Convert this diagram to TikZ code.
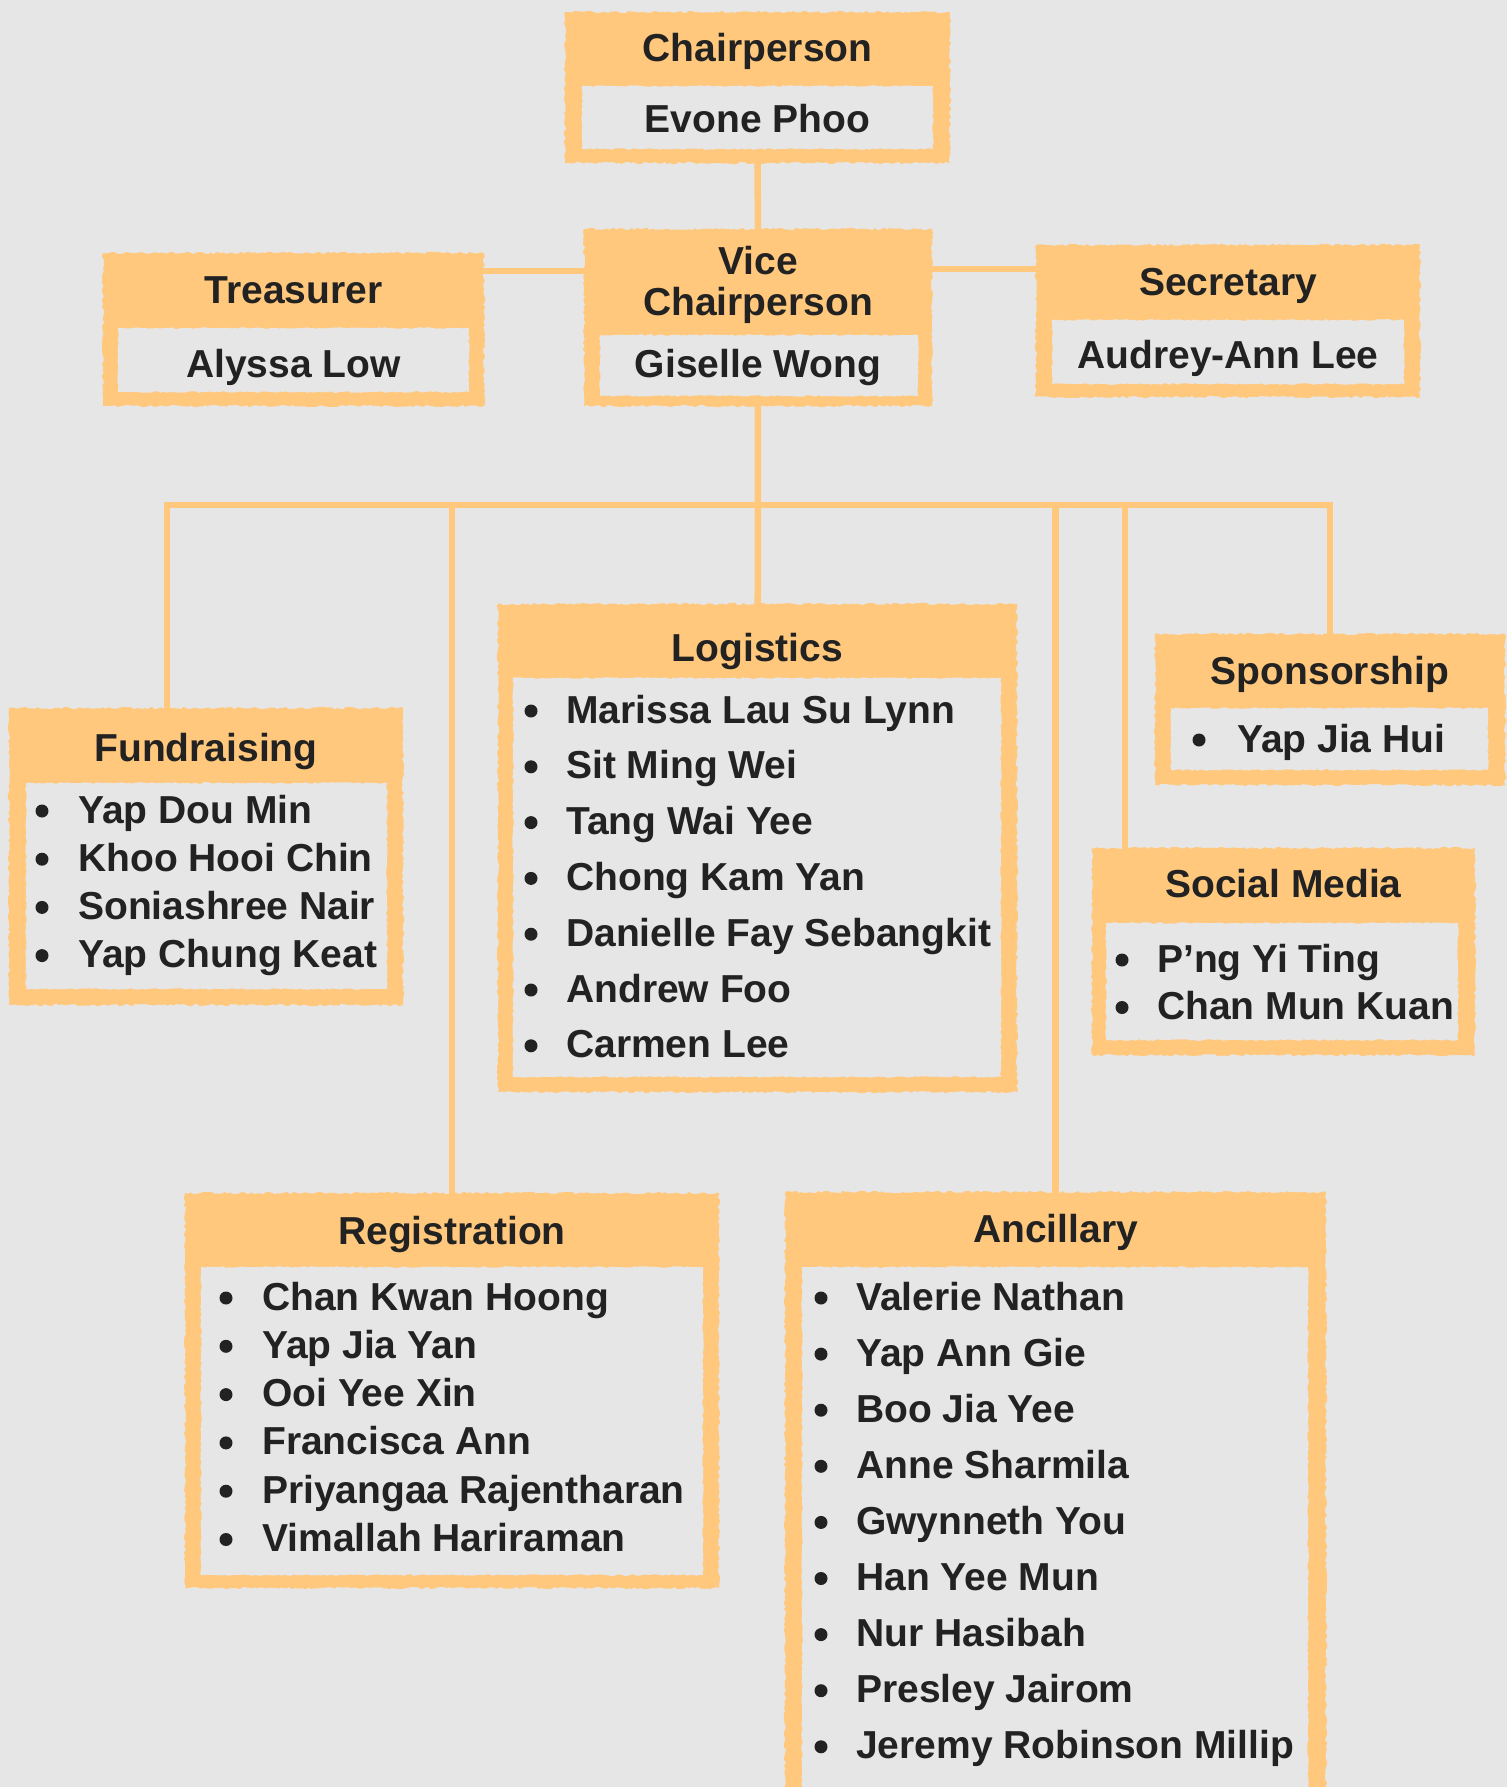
\documentclass[tikz,border=0pt]{standalone}
\usepackage{fontspec}
\setmainfont{Liberation Sans}
\usetikzlibrary{decorations.pathmorphing,backgrounds}

\definecolor{canvas}{HTML}{E6E6E6}
\definecolor{tape}{HTML}{FFC87D}
\definecolor{ink}{HTML}{222222}

\tikzset{
  torn/.style={decorate, decoration={random steps, segment length=3pt, amplitude=1.2pt}},
  outerbox/.style={torn, fill=tape, draw=none, inner sep=0pt, outer sep=0pt},
  innerbox/.style={decorate, decoration={random steps, segment length=3pt, amplitude=0.8pt},
                   fill=canvas, draw=none, inner sep=0pt, outer sep=0pt},
  caption/.style={text=ink, font=\bfseries\fontsize{39}{40}\selectfont, inner sep=0pt, anchor=base},
  dot/.style={circle, fill=ink, inner sep=0pt, minimum size=13pt},
  link/.style={draw=tape, line width=6.5pt, line join=miter},
}

% bulleted member list: prefix, bullet x, text x, first baseline, line step, names
\newcommand\roster[6]{%
  \foreach \who [count=\k from 0] in {#6} {
    \node[dot] (#1b\k) at (#2, {#4+\k*#5-12}) {};
    \node[caption, anchor=base west] (#1t\k) at (#3, {#4+\k*#5}) {\who};
  }}

\begin{document}
\begin{tikzpicture}[x=1pt, y=-1pt]
\pgfmathsetseed{7}
\useasboundingbox (0,0) rectangle (1507,1787);

% ---- executive boxes ----
\node[outerbox, minimum width=385, minimum height=151] (chair) at (757.5,87.5) {};
\node[innerbox, minimum width=351, minimum height=63] (chairin) at (757.5,117.5) {};
\node[caption] (chairtitle) at (757.5,62) {Chairperson};
\node[caption] (chairname) at (757.5,133) {Evone Phoo};

\node[outerbox, minimum width=348, minimum height=177] (vice) at (758,317.5) {};
\node[innerbox, minimum width=318, minimum height=61] (vicein) at (759,365.5) {};
\node[caption, align=center] (vicetitle) at (758,315) {Vice\\Chairperson};
\node[caption] (vicename) at (758,377) {Giselle Wong};

\node[outerbox, minimum width=381, minimum height=153] (treas) at (293.5,329.5) {};
\node[innerbox, minimum width=351, minimum height=64] (treasin) at (293.5,360) {};
\node[caption] (treastitle) at (293.5,303) {Treasurer};
\node[caption] (treasname) at (293.5,377) {Alyssa Low};

\node[outerbox, minimum width=384, minimum height=152] (sec) at (1228,321) {};
\node[innerbox, minimum width=352, minimum height=64] (secin) at (1228,352) {};
\node[caption] (sectitle) at (1228,295) {Secretary};
\node[caption] (secname) at (1228,368) {Audrey-Ann Lee};

% ---- committees ----
\node[outerbox, minimum width=394, minimum height=297] (fund) at (206,856.5) {};
\node[innerbox, minimum width=361, minimum height=206] (fundin) at (206.5,886) {};
\node[caption] (fundtitle) at (206,761) {Fundraising};
\roster{fund}{42}{78}{823}{48.2}{Yap Dou Min, Khoo Hooi Chin, Soniashree Nair, Yap Chung Keat}

\node[outerbox, minimum width=519, minimum height=488] (logi) at (757.5,848) {};
\node[innerbox, minimum width=488, minimum height=399] (logiin) at (757,877.5) {};
\node[caption] (logititle) at (757.5,661) {Logistics};
\roster{logi}{531}{566}{723}{55.8}{Marissa Lau Su Lynn, Sit Ming Wei, Tang Wai Yee, Chong Kam Yan, Danielle Fay Sebangkit, Andrew Foo, Carmen Lee}

\node[outerbox, minimum width=350, minimum height=151] (spons) at (1330,709.5) {};
\node[innerbox, minimum width=317, minimum height=62] (sponsin) at (1329.5,739) {};
\node[caption] (sponstitle) at (1330,684) {Sponsorship};
\roster{spons}{1199}{1237}{752}{48}{Yap Jia Hui}

\node[outerbox, minimum width=383, minimum height=207] (social) at (1283.5,951.5) {};
\node[innerbox, minimum width=352, minimum height=117] (socialin) at (1282,981.5) {};
\node[caption] (socialtitle) at (1283.5,897) {Social Media};
\roster{social}{1122}{1157}{972}{47.5}{P’ng Yi Ting, Chan Mun Kuan}

\node[outerbox, minimum width=534, minimum height=395] (reg) at (452,1390.5) {};
\node[innerbox, minimum width=502, minimum height=308] (regin) at (452,1421) {};
\node[caption] (regtitle) at (452,1244) {Registration};
\roster{reg}{226}{262}{1310}{48.3}{Chan Kwan Hoong, Yap Jia Yan, Ooi Yee Xin, Francisca Ann, Priyangaa Rajentharan, Vimallah Hariraman}

\node[outerbox, minimum width=541, minimum height=620] (anc) at (1055.5,1502) {};
\node[innerbox, minimum width=506, minimum height=545] (ancin) at (1055,1539.5) {};
\node[caption] (anctitle) at (1055.5,1242) {Ancillary};
\roster{anc}{821}{856}{1310}{56.1}{Valerie Nathan, Yap Ann Gie, Boo Jia Yee, Anne Sharmila, Gwynneth You, Han Yee Mun, Nur Hasibah, Presley Jairom, Jeremy Robinson Millip}

% ---- connectors, kept underneath the boxes ----
\coordinate (tv) at (0,271);
\coordinate (sv) at (0,269);
\coordinate (busL) at (167,505);
\coordinate (smx) at (1125,505);
\begin{pgfonlayer}{background}
  \fill[canvas] (0,0) rectangle (1507,1787);
  \draw[link] (chair.center) -- (vice.center);
  \draw[link] (treas.center |- tv) -- (vice.center |- tv);
  \draw[link] (vice.center |- sv) -- (sec.center |- sv);
  \draw[link] (vice.center) -- (logi.center);
  \draw[link] (busL |- fund.center) -- (busL) -- (spons.center |- busL) -- (spons.center);
  \draw[link] (reg.center |- busL) -- (reg.center);
  \draw[link] (anc.center |- busL) -- (anc.center);
  \draw[link] (smx) -- (smx |- social.center);
\end{pgfonlayer}
\end{tikzpicture}
\end{document}
